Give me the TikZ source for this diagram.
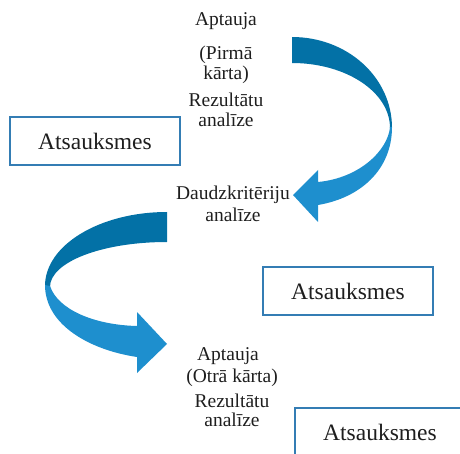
\documentclass[tikz,border=0pt]{standalone}
\usepackage{fontspec}
\setmainfont{Liberation Serif}
\definecolor{arrowdark}{RGB}{3,113,166}
\definecolor{arrowlight}{RGB}{30,143,206}
\definecolor{boxline}{RGB}{52,125,180}
\definecolor{txt}{RGB}{30,30,30}
\begin{document}
\begin{tikzpicture}[x=1pt,y=-1pt,
  lbl/.style={anchor=base,inner sep=0pt,text=txt,font=\fontsize{19.5}{21}\selectfont},
  fbox/.style={draw=boxline,line width=1.4pt,minimum width=170pt,minimum height=48pt,inner sep=0pt,text=txt,font=\fontsize{23.5}{26}\selectfont},
  darkpart/.style={fill=arrowdark,draw=none},
  lightpart/.style={fill=arrowlight,draw=none}]
\useasboundingbox (0,0) rectangle (460,454);
\clip (0,0) rectangle (460,454);
% upper curved arrow
\path[darkpart] (292,37) .. controls (347,37) and (392,77) .. (392,128)
  -- (390,128) .. controls (390,92) and (346,63) .. (292,63) -- cycle;
\path[lightpart] (390,127) .. controls (388,150) and (360,178) .. (318,182)
  -- (318,170) -- (293,195) -- (318,222) -- (318,205)
  .. controls (360,198) and (392,170) .. (392,127) -- cycle;
% left curved arrow
\path[darkpart] (167,212) .. controls (100,212) and (45,245) .. (45,286)
  -- (50,287) .. controls (50,262) and (102,242) .. (167,242) -- cycle;
\path[lightpart] (50,286) .. controls (58,310) and (95,325) .. (137,326)
  -- (137,312) -- (167,344) -- (137,373) -- (137,357)
  .. controls (90,350) and (45,325) .. (45,285) -- cycle;
% text block 1
\node[lbl] (a1) at (226,26) {Aptauja};
\node[lbl] (a2) at (226,59.5) {(Pirmā};
\node[lbl] (a3) at (226,79.5) {kārta)};
\node[lbl] (a4) at (226,107) {Rezultātu};
\node[lbl] (a5) at (226,127) {analīze};
% text block 2
\node[lbl] (b1) at (233,200) {Daudzkritēriju};
\node[lbl] (b2) at (233,222) {analīze};
% text block 3
\node[lbl] (c1) at (228,360) {Aptauja};
\node[lbl] (c2) at (232,382) {(Otrā kārta)};
\node[lbl] (c3) at (232,407) {Rezultātu};
\node[lbl] (c4) at (232,426) {analīze};
% feedback boxes
\node[fbox] (f1) at (95,141) {Atsauksmes};
\node[fbox] (f2) at (348,291) {Atsauksmes};
\node[fbox] (f3) at (380,432) {Atsauksmes};
\end{tikzpicture}
\end{document}
